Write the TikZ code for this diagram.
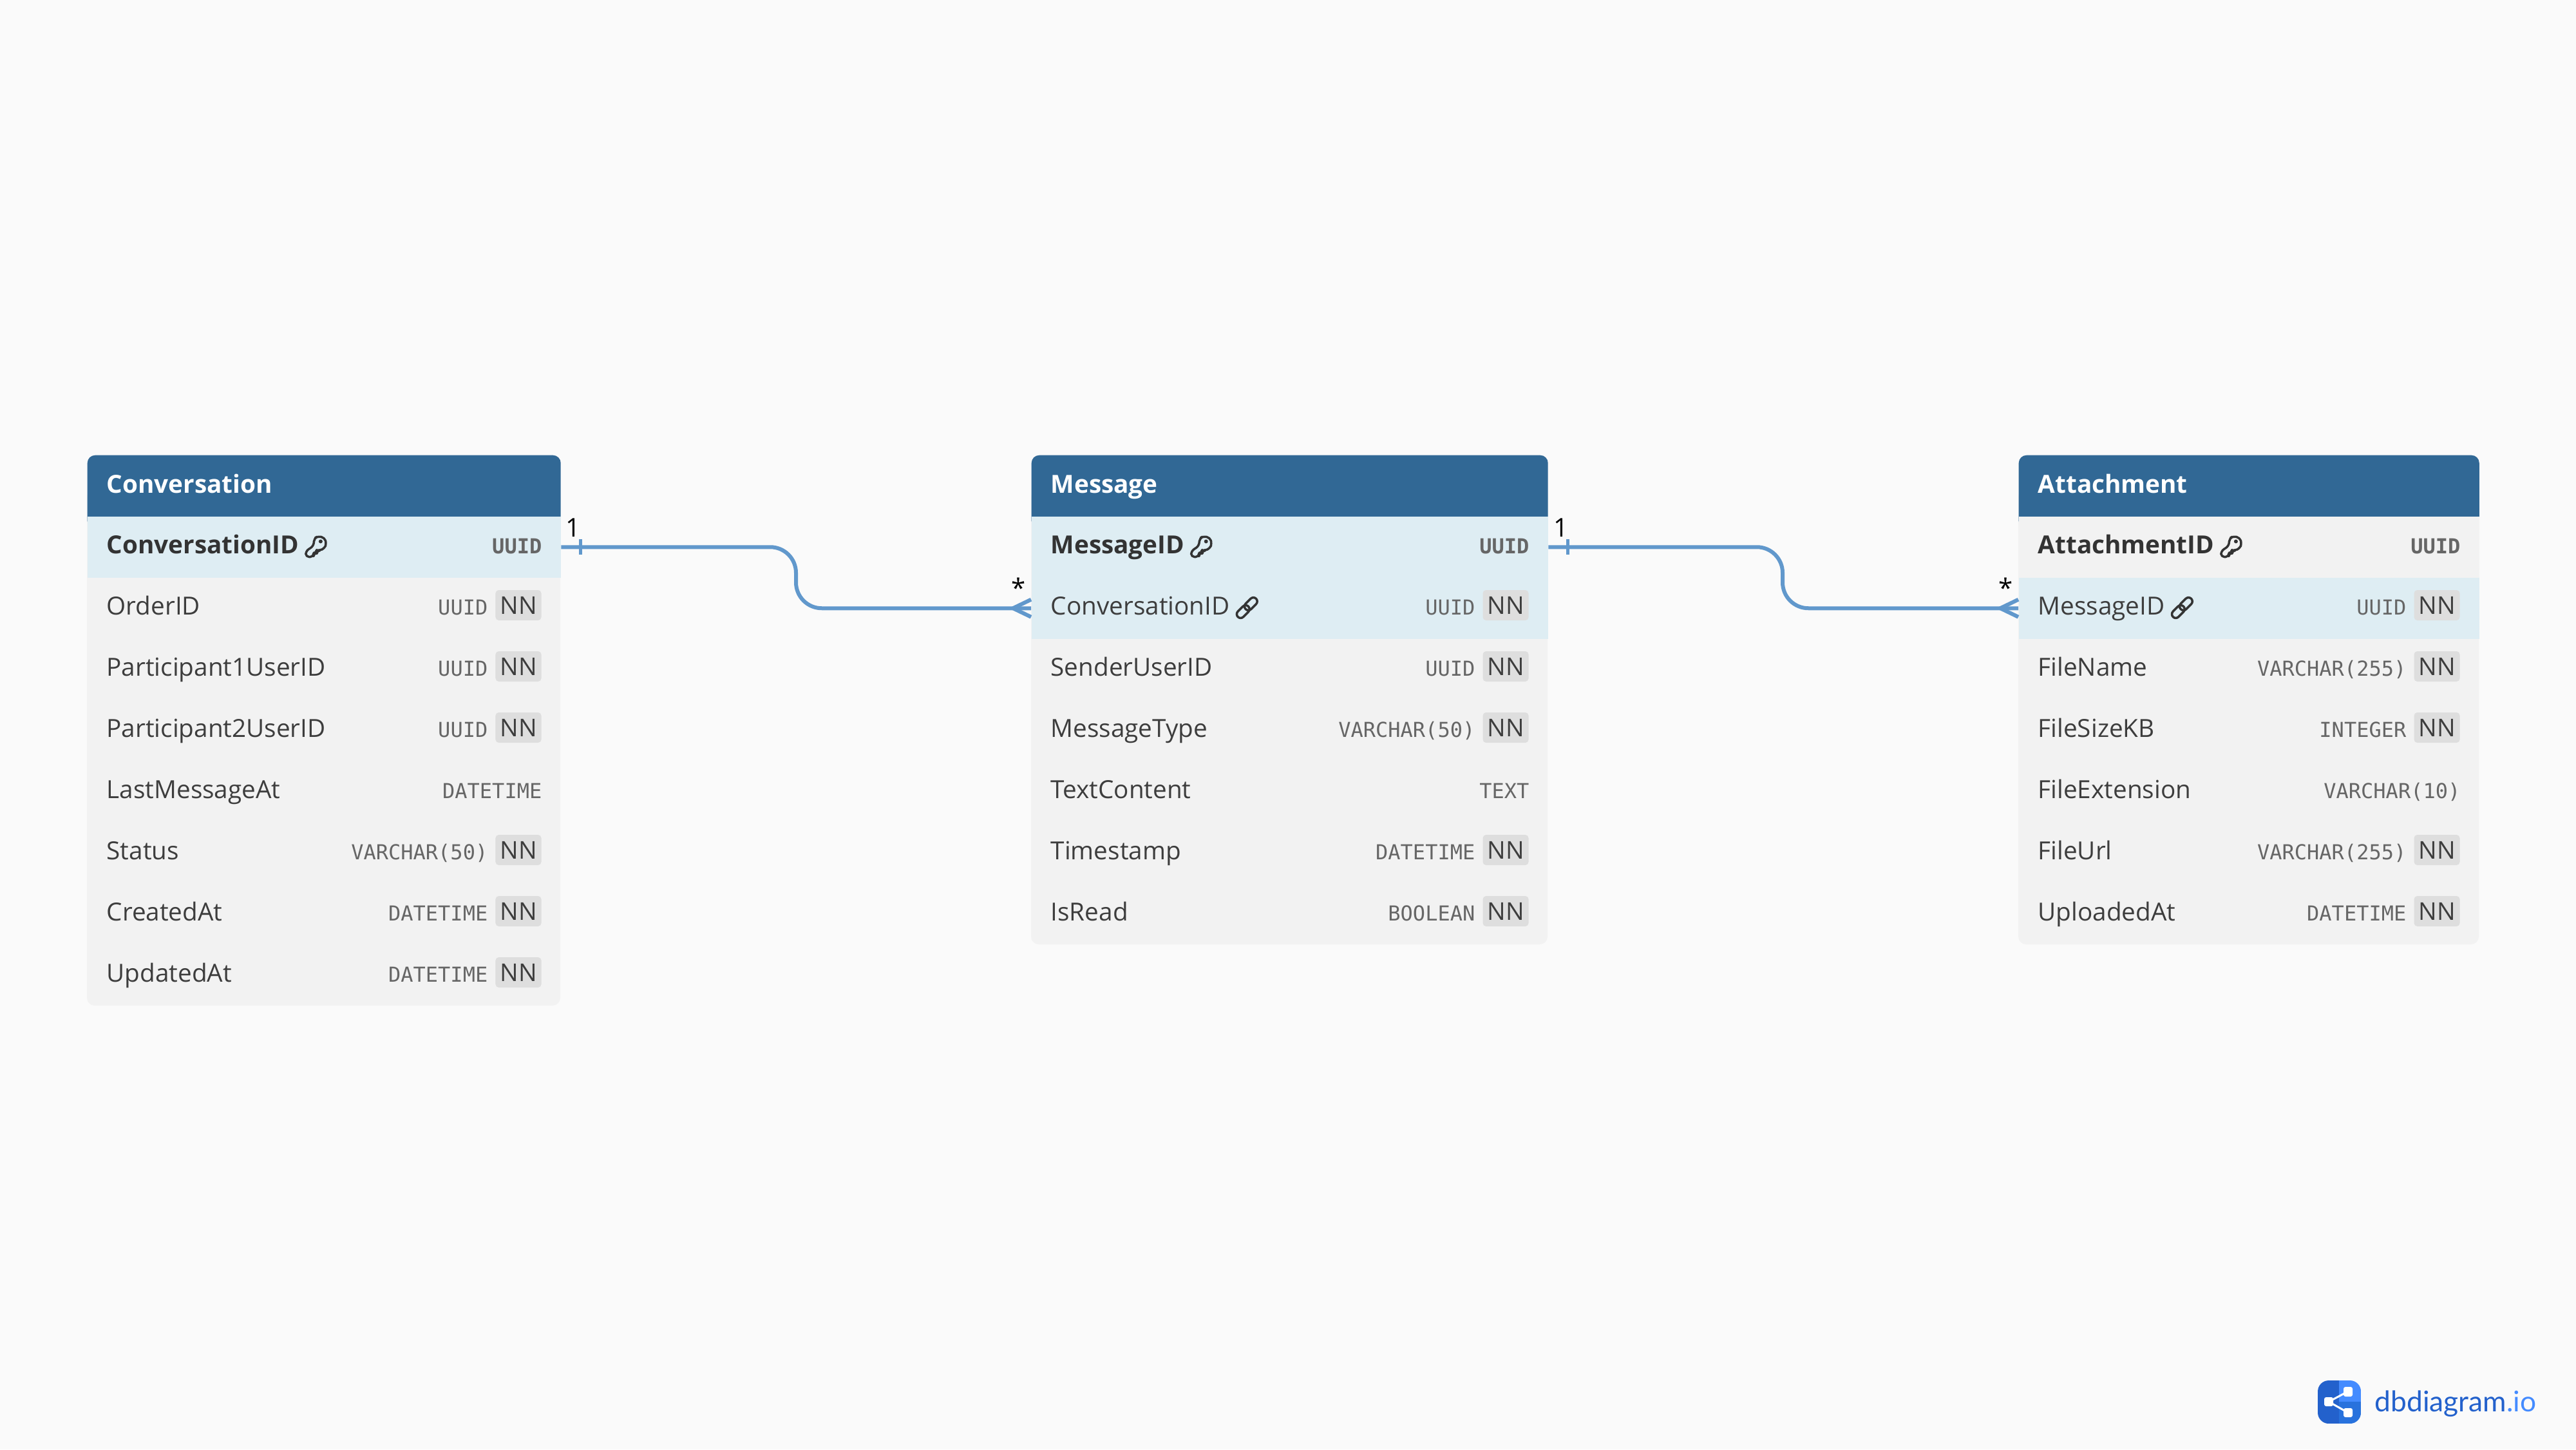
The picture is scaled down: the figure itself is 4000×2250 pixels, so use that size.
\documentclass[tikz,border=0pt]{standalone}
\usepackage{fontspec}
\setmainfont{Open Sans}
\setmonofont{DejaVu Sans Mono}
\newfontfamily\logofont{Lato}
\usepackage{tikz}
\definecolor{pagebg}{HTML}{FAFAFA}
\definecolor{headblue}{HTML}{316895}
\definecolor{rowgrey}{HTML}{F2F2F2}
\definecolor{rowhigh}{HTML}{DEEDF3}
\definecolor{badgegrey}{HTML}{DEDEDE}
\definecolor{textdark}{HTML}{3D3D3D}
\definecolor{typegrey}{HTML}{666666}
\definecolor{relblue}{HTML}{6198CC}
\definecolor{logodark}{HTML}{2361CC}
\definecolor{logomid}{HTML}{2872DD}
\definecolor{logolight}{HTML}{448BFF}
\tikzset{
	headbox/.style={fill=headblue, rounded corners=.12cm, inner sep=0, anchor=north west, minimum height=1.14cm},
	headtext/.style={text=white, anchor=base west, inner sep=0, font=\fontsize{11pt}{13pt}\selectfont\bfseries},
	rowbare/.style={inner sep=0, anchor=north west, minimum height=.95cm},
	rowplain/.style={rowbare, fill=rowgrey},
	rowhigh/.style={rowbare, fill=rowhigh},
	fieldname/.style={text=textdark, anchor=base west, inner sep=0, font=\fontsize{11pt}{13pt}\selectfont},
	fieldkey/.style={text=black!80, anchor=base west, inner sep=0, font=\fontsize{11pt}{13pt}\selectfont\bfseries},
	fieldtype/.style={text=typegrey, anchor=base east, inner sep=0, font=\fontsize{9.1pt}{11pt}\selectfont\ttfamily},
	keytype/.style={fieldtype, font=\fontsize{9.1pt}{11pt}\selectfont\ttfamily\bfseries},
	nnbadge/.style={fill=badgegrey, rounded corners=.05cm, inner sep=0, text=textdark, minimum width=.71cm, minimum height=.47cm, text height=.27cm, text depth=0pt, font=\fontsize{10.8pt}{13pt}\selectfont},
	relline/.style={draw=relblue, line width=.06cm},
	relbend/.style={relline, rounded corners=.4cm},
	cardtext/.style={text=black, anchor=base, inner sep=0, font=\fontsize{11.4pt}{13pt}\selectfont},
	iconline/.style={draw=black!80, line width=.035cm, line join=round},
	pics/noicon/.style={code={}},
	pics/keyicon/.style={code={
		\draw[iconline, rounded corners=.05cm] (-4,-1)--(-3,-13)--(3,-16)--(13,-14)--(16,-5)--(13,3)--(5,6)--(1,6)--(1,10)--(-4,10)--(-4,16)--(-16,16)--(-16,7)--cycle;
		\fill[black!80] (7,-8) circle (.03cm);
	}},
	pics/linkicon/.style={code={
		\draw[iconline, rounded corners=.06cm, rotate=45] (-20,-6) rectangle (3,6);
		\draw[iconline, rounded corners=.06cm, rotate=45] (-3,-6) rectangle (20,6);
	}},
}
% prefix, left, right, title, number of rows, rows
\newcommand{\dbtable}[6]{
	\pgfmathsetmacro{\tabw}{#3-#2}
	\pgfmathsetmacro{\tabb}{801+95*#5}
	\fill[rowgrey, rounded corners=.12cm] (#2,760) rectangle (#3,\tabb);
	\node[headbox, minimum width=\tabw*.01cm] (#1head) at (#2,706) {};
	\node[headtext] (#1title) at (#2+30,765) {#4};
	\foreach \i/\rowstyle/\namestyle/\typestyle/\rowicon/\rownn/\rowname/\rowtype in {#6} {
		\pgfmathsetmacro{\rowy}{801+95*(\i-1)}
		\node[\rowstyle, minimum width=\tabw*.01cm] (#1\i) at (#2,\rowy) {};
		\node[\namestyle] (#1\i name) at (#2+30,\rowy+58) {\rowname};
		\pic at ([xshift=.26cm,yshift=.105cm]#1\i name.base east) {\rowicon};
		\ifnum\rownn=1
			\node[\typestyle] (#1\i type) at (#3-112,\rowy+58) {\rowtype};
			\node[nnbadge] (#1\i nn) at (#3-65,\rowy+43.5) {NN};
		\else
			\node[\typestyle] (#1\i type) at (#3-28,\rowy+58) {\rowtype};
		\fi
	}
}
\begin{document}
\begin{tikzpicture}[x=.01cm, y=-.01cm]
	\useasboundingbox (0,0) rectangle (4000,2250);
	\fill[pagebg] (0,0) rectangle (4000,2250);

	\dbtable{conv}{135}{870}{Conversation}{8}{
		1/rowhigh/fieldkey/keytype/keyicon/0/ConversationID/UUID,
		2/rowbare/fieldname/fieldtype/noicon/1/OrderID/UUID,
		3/rowbare/fieldname/fieldtype/noicon/1/Participant1UserID/UUID,
		4/rowbare/fieldname/fieldtype/noicon/1/Participant2UserID/UUID,
		5/rowbare/fieldname/fieldtype/noicon/0/LastMessageAt/DATETIME,
		6/rowbare/fieldname/fieldtype/noicon/1/Status/VARCHAR(50),
		7/rowbare/fieldname/fieldtype/noicon/1/CreatedAt/DATETIME,
		8/rowbare/fieldname/fieldtype/noicon/1/UpdatedAt/DATETIME}
	\dbtable{msg}{1601}{2403}{Message}{7}{
		1/rowhigh/fieldkey/keytype/keyicon/0/MessageID/UUID,
		2/rowhigh/fieldname/fieldtype/linkicon/1/ConversationID/UUID,
		3/rowbare/fieldname/fieldtype/noicon/1/SenderUserID/UUID,
		4/rowbare/fieldname/fieldtype/noicon/1/MessageType/VARCHAR(50),
		5/rowbare/fieldname/fieldtype/noicon/0/TextContent/TEXT,
		6/rowbare/fieldname/fieldtype/noicon/1/Timestamp/DATETIME,
		7/rowbare/fieldname/fieldtype/noicon/1/IsRead/BOOLEAN}
	\dbtable{att}{3134}{3849}{Attachment}{7}{
		1/rowplain/fieldkey/keytype/keyicon/0/AttachmentID/UUID,
		2/rowhigh/fieldname/fieldtype/linkicon/1/MessageID/UUID,
		3/rowbare/fieldname/fieldtype/noicon/1/FileName/VARCHAR(255),
		4/rowbare/fieldname/fieldtype/noicon/1/FileSizeKB/INTEGER,
		5/rowbare/fieldname/fieldtype/noicon/0/FileExtension/VARCHAR(10),
		6/rowbare/fieldname/fieldtype/noicon/1/FileUrl/VARCHAR(255),
		7/rowbare/fieldname/fieldtype/noicon/1/UploadedAt/DATETIME}

	% relations
	\coordinate (bendA) at (1236,900);
	\coordinate (bendB) at (2768,900);
	\draw[relbend] (conv1.east) -- (bendA |- conv1.east) -- (bendA |- msg2.west) -- (msg2.west);
	\draw[relbend] (msg1.east) -- (bendB |- msg1.east) -- (bendB |- att2.west) -- (att2.west);
	\foreach \from/\to in {conv1/msg2, msg1/att2} {
		\draw[relline, line width=.045cm] ([xshift=.3cm,yshift=.12cm]\from.east) -- ([xshift=.3cm,yshift=-.12cm]\from.east);
		\draw[relline] ([yshift=.135cm]\to.west) -- ([xshift=-.28cm]\to.west) -- ([yshift=-.135cm]\to.west);
	}
	\node[cardtext] (cardA) at (890,833) {1};
	\node[cardtext] (cardB) at (1582,927) {*};
	\node[cardtext] (cardC) at (2424,833) {1};
	\node[cardtext] (cardD) at (3115,927) {*};

	% logo
	\begin{scope}
		\clip[rounded corners=.17cm] (3599,2143) rectangle (3666,2210);
		\fill[logodark] (3599,2143) rectangle (3632,2210);
		\fill[logolight] (3632,2143) rectangle (3666,2176);
		\fill[logomid] (3632,2176) rectangle (3666,2210);
	\end{scope}
	\draw[white, line width=.03cm] (3646,2160) -- (3616,2176) -- (3646,2193);
	\fill[white, rounded corners=.03cm] (3609,2169) rectangle (3623,2183);
	\fill[white, rounded corners=.03cm] (3639,2153) rectangle (3653,2168);
	\fill[white, rounded corners=.03cm] (3639,2186) rectangle (3653,2200);
	\node[anchor=base west, inner sep=0, font=\fontsize{12.6pt}{14pt}\logofont] (logotext) at (3687,2191) {\textcolor{logodark}{dbdiagram}\textcolor{logolight}{.io}};
\end{tikzpicture}
\end{document}
